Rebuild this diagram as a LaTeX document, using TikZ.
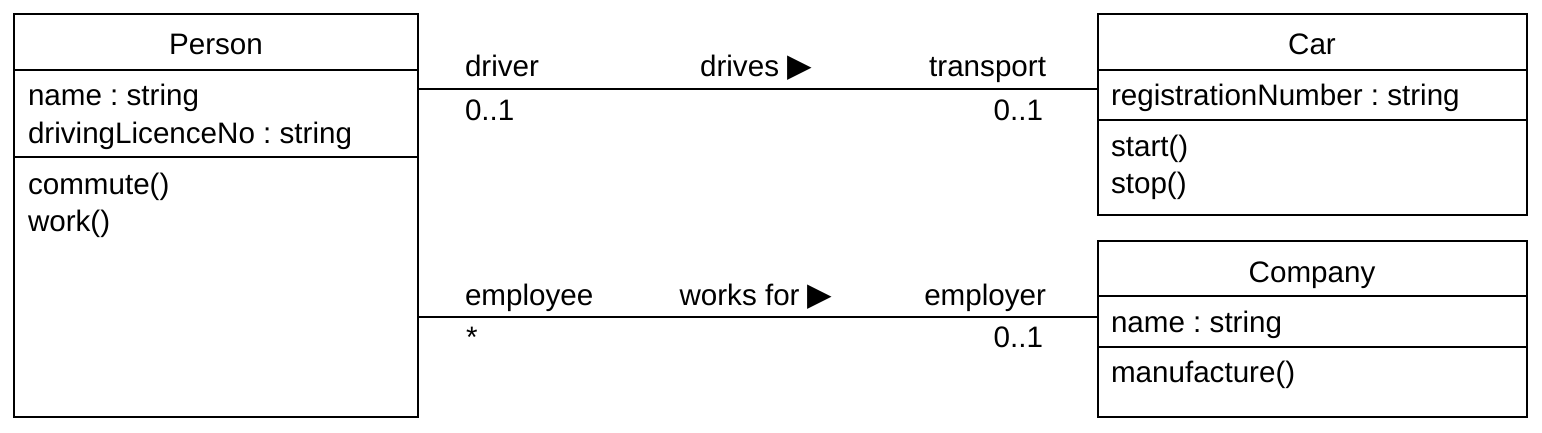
\documentclass[tikz,border=0pt]{standalone}
\usepackage{fontspec}
\setmainfont{Liberation Sans}
\newfontfamily\symfont{DejaVu Sans}
\usetikzlibrary{calc}

\newcommand{\rarr}{{\symfont\fontsize{16}{18}\selectfont ▶}}

\begin{document}
\begin{tikzpicture}[x=0.5pt,y=-0.5pt,line width=1pt,
	classbox/.style={draw,rectangle,anchor=north west,inner sep=0pt,outer sep=0pt},
	txt/.style={inner sep=0pt,font=\fontsize{14.8}{17}\selectfont\frenchspacing}]
	\useasboundingbox (0,0) rectangle (1542,433);

	% classes
	\node[classbox,minimum width=202pt,minimum height=201.5pt] (person) at (14,14) {};
	\node[classbox,minimum width=214.5pt,minimum height=100.5pt] (car) at (1098,14) {};
	\node[classbox,minimum width=214.5pt,minimum height=88pt] (company) at (1098,241) {};

	\draw ($(person.north west)+(0,56)$) -- ($(person.north east)+(0,56)$);
	\draw ($(person.north west)+(0,143)$) -- ($(person.north east)+(0,143)$);
	\draw ($(car.north west)+(0,56)$) -- ($(car.north east)+(0,56)$);
	\draw ($(car.north west)+(0,106)$) -- ($(car.north east)+(0,106)$);
	\draw ($(company.north west)+(0,55)$) -- ($(company.north east)+(0,55)$);
	\draw ($(company.north west)+(0,106)$) -- ($(company.north east)+(0,106)$);

	\node[txt,anchor=base] (personname) at (216,55) {Person};
	\node[txt,anchor=base] (carname) at (1312,55) {Car};
	\node[txt,anchor=base] (companyname) at (1312,282) {Company};

	\foreach \y/\t in {106/name : string, 143/drivingLicenceNo : string, 194/commute(), 231/work()}
	\node[txt,anchor=base west] (p\y) at (27,\y) {\t};
	\foreach \y/\t in {106/registrationNumber : string, 156/start(), 193/stop()}
	\node[txt,anchor=base west] (c\y) at (1110,\y) {\t};
	\foreach \y/\t in {332/name : string, 382/manufacture()}
	\node[txt,anchor=base west] (k\y) at (1110,\y) {\t};

	% associations
	\coordinate (drv) at ($(person.north east)+(0,75)$);
	\coordinate (emp) at ($(person.north east)+(0,303)$);
	\draw (drv) -- (drv -| car.west);
	\draw (emp) -- (emp -| company.west);

	\node[txt,anchor=base west] (driver) at (464,77) {driver};
	\node[txt,anchor=base] (drives) at (756,77) {drives \rarr};
	\node[txt,anchor=base east] (transport) at (1047,77) {transport};
	\node[txt,anchor=base west] (m1) at (464,120) {0..1};
	\node[txt,anchor=base east] (m2) at (1044,120) {0..1};

	\node[txt,anchor=base west] (employee) at (464,305) {employee};
	\node[txt,anchor=base] (worksfor) at (756,305) {works for \rarr};
	\node[txt,anchor=base east] (employer) at (1047,305) {employer};
	\node[txt,anchor=base west] (m3) at (465,347) {*};
	\node[txt,anchor=base east] (m4) at (1044,347) {0..1};
\end{tikzpicture}
\end{document}
